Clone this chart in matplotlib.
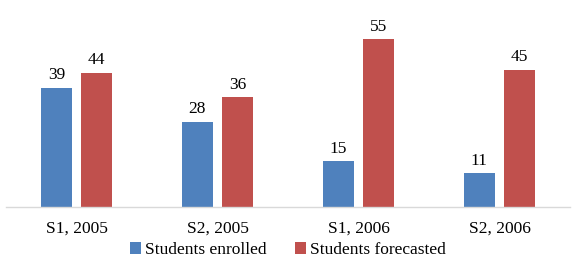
import numpy as np
import matplotlib
matplotlib.use('Agg')
from matplotlib import pyplot as plt

plt.rcParams['font.family'] = ['Liberation Serif', 'DejaVu Serif']

categories = ['S1, 2005', 'S2, 2005', 'S1, 2006', 'S2, 2006']
enrolled = [39, 28, 15, 11]
forecasted = [44, 36, 55, 45]

blue = '#4F81BD'
red = '#C0504D'

fig = plt.figure(figsize=(5.84, 2.59), dpi=100)
ax = fig.add_axes([6/584., 52/259., 564/584., 183/259.])

x = np.arange(len(categories))
w = 0.22
off = 0.143
b1 = ax.bar(x - off, enrolled, w, color=blue, label='Students enrolled')
b2 = ax.bar(x + off, forecasted, w, color=red, label='Students forecasted')

for bars, vals in [(b1, enrolled), (b2, forecasted)]:
    for r, v in zip(bars, vals):
        ax.text(r.get_x() + r.get_width()/2, v + 1.5, str(v),
                ha='center', va='bottom', fontsize=12.5)

ax.set_xlim(-0.5, 3.5)
ax.set_ylim(0, 60)
ax.set_xticks(x)
ax.set_xticklabels(categories, fontsize=12.5)
ax.tick_params(axis='x', length=0, pad=10)
ax.set_yticks([])
for s in ['top', 'left', 'right']:
    ax.spines[s].set_visible(False)
ax.spines['bottom'].set_color('#D9D9D9')
ax.spines['bottom'].set_linewidth(1)

ax.legend(loc='upper center', bbox_to_anchor=(0.5, -0.145), ncol=2, frameon=False,
          fontsize=12.5, handlelength=0.65, handleheight=0.65, handletextpad=0.25,
          columnspacing=1.6, borderpad=0)

fig.savefig('out.png', dpi=100)
